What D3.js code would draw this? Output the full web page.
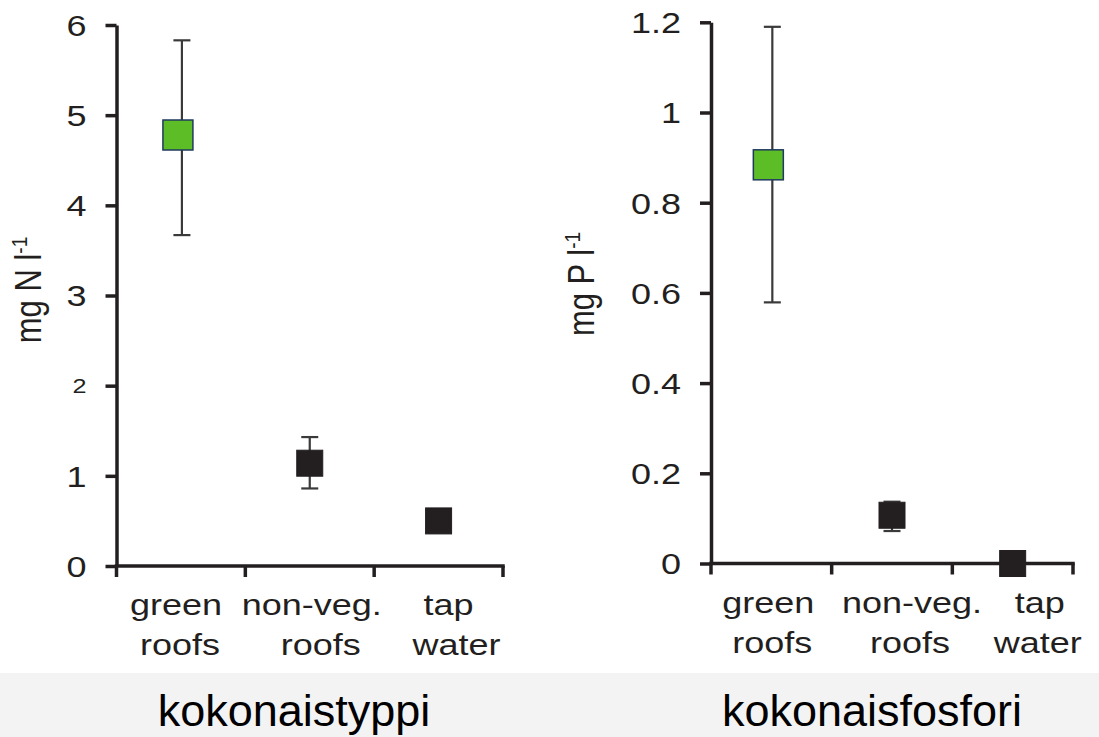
<!DOCTYPE html>
<html>
<head>
<meta charset="utf-8">
<script src="https://cdn.jsdelivr.net/npm/d3@7/dist/d3.min.js"></script>
<style>
  html, body { margin: 0; padding: 0; background: #ffffff; }
  svg { display: block; }
  text { font-family: "Liberation Sans", Arial, sans-serif; }
</style>
</head>
<body>
<svg id="chart" width="1099" height="737"></svg>
<script>
// ---------------- data ----------------
const categories = ["green roofs", "non-veg. roofs", "tap water"];
const categoryLines = [["green", "roofs"], ["non-veg.", "roofs"], ["tap", "water"]];

const nitrogenMean = [4.78, 1.14, 0.50];
const nitrogenLow  = [3.67, 0.86, null];
const nitrogenHigh = [5.83, 1.43, null];

const phosphorusMean = [0.884, 0.107, 0.0];
const phosphorusLow  = [0.579, 0.072, null];
const phosphorusHigh = [1.19, 0.137, null];

const nitrogenTicks = [0, 1, 2, 3, 4, 5, 6];
const nitrogenTickLabels = ["0", "1", "2", "3", "4", "5", "6"];
const phosphorusTicks = [0, 0.2, 0.4, 0.6, 0.8, 1.0, 1.2];
const phosphorusTickLabels = ["0", "0.2", "0.4", "0.6", "0.8", "1", "1.2"];

const titles = ["kokonaistyppi", "kokonaisfosfori"];
const yLabels = [["mg N l", "-1"], ["mg P l", "-1"]];

// ---------------- layout / style ----------------
const panels = [
  { mean: nitrogenMean, low: nitrogenLow, high: nitrogenHigh,
    ticks: nitrogenTicks, tickLabels: nitrogenTickLabels, domain: [0, 6],
    x0: 116.5, x1: 503, yBottom: 566, yTop: 25,
    labelDx: [[-5, -1], [2, 11], [10, 18]],
    yLabelX: 41, yLabelY: 290, title: titles[0], titleX: 294, yLabel: yLabels[0],
    smallTick: 2 },
  { mean: phosphorusMean, low: phosphorusLow, high: phosphorusHigh,
    ticks: phosphorusTicks, tickLabels: phosphorusTickLabels, domain: [0, 1.2],
    x0: 711, x1: 1073, yBottom: 563.5, yTop: 22.3,
    labelDx: [[-3, 1], [20, 18], [27, 25]],
    yLabelX: 594, yLabelY: 284, title: titles[1], titleX: 872, yLabel: yLabels[1],
    smallTick: null }
];

const stretch = 1.2;
const inkColor = "#231f20";
const svg = d3.select("#chart");

// bottom band
svg.append("rect").attr("x", 0).attr("y", 673).attr("width", 1099).attr("height", 64)
  .attr("fill", "#f3f3f3");

panels.forEach((p, pi) => {
  const y = d3.scaleLinear().domain(p.domain).range([p.yBottom, p.yTop]);
  const x = d3.scaleBand().domain(categories).range([p.x0, p.x1]).paddingInner(0).paddingOuter(0);
  const g = svg.append("g");

  // y axis
  const yAxis = d3.axisLeft(y).tickValues(p.ticks).tickSize(11).tickSizeOuter(0).tickFormat("");
  const ya = g.append("g").attr("transform", `translate(${p.x0},0)`).call(yAxis);
  ya.select(".domain").attr("stroke", inkColor).attr("stroke-width", 3.5);
  ya.selectAll(".tick line").attr("stroke", inkColor).attr("stroke-width", 3.5);

  // y tick labels
  p.ticks.forEach((t, i) => {
    const small = p.smallTick !== null && t === p.smallTick;
    g.append("text")
      .attr("transform", `translate(${p.x0 - 30},${y(t)}) scale(${stretch},1)`)
      .attr("text-anchor", "end")
      .attr("dy", "0.36em")
      .attr("font-size", small ? 21 : 30)
      .attr("fill", inkColor)
      .text(p.tickLabels[i]);
  });

  // x axis
  const bounds = [p.x0, ...categories.map(c => x(c) + x.bandwidth())];
  g.append("line").attr("x1", p.x0 - 1.75).attr("x2", p.x1 + 1.75)
    .attr("y1", y(0)).attr("y2", y(0))
    .attr("stroke", inkColor).attr("stroke-width", 3.5);
  g.selectAll(".xtick").data(bounds).enter().append("line")
    .attr("x1", d => d).attr("x2", d => d)
    .attr("y1", y(0)).attr("y2", y(0) + 11)
    .attr("stroke", inkColor).attr("stroke-width", 3.5);

  // x labels
  categories.forEach((c, i) => {
    categoryLines[i].forEach((line, li) => {
      g.append("text")
        .attr("transform", `translate(${x(c) + x.bandwidth() / 2 + p.labelDx[i][li]},${y(0) + 49 + li * 40}) scale(${stretch},1)`)
        .attr("text-anchor", "middle")
        .attr("font-size", 30)
        .attr("fill", inkColor)
        .text(line);
    });
  });

  // y label
  const yl = g.append("text")
    .attr("transform", `translate(${p.yLabelX},${p.yLabelY}) rotate(-90) scale(1,${stretch})`)
    .attr("text-anchor", "middle")
    .attr("font-size", 31)
    .attr("fill", inkColor);
  yl.append("tspan").text(p.yLabel[0]);
  yl.append("tspan").attr("font-size", 19).attr("dy", -12).text(p.yLabel[1]);

  // error bars
  categories.forEach((c, i) => {
    if (p.low[i] === null) return;
    const cx = x(c) + x.bandwidth() / 2 + (i === 0 ? 1 : 0);
    g.append("line").attr("x1", cx).attr("x2", cx)
      .attr("y1", y(p.low[i])).attr("y2", y(p.high[i]))
      .attr("stroke", "#3a3a3a").attr("stroke-width", 2.2);
    [p.low[i], p.high[i]].forEach(v => {
      g.append("line").attr("x1", cx - 8.5).attr("x2", cx + 8.5)
        .attr("y1", y(v)).attr("y2", y(v))
        .attr("stroke", "#3a3a3a").attr("stroke-width", 2.2);
    });
  });

  // markers
  categories.forEach((c, i) => {
    const green = i === 0;
    const s = green ? 30 : 26;
    const cx = x(c) + x.bandwidth() / 2 + (green ? -3 : 0);
    g.append("rect")
      .attr("x", cx - s / 2).attr("y", y(p.mean[i]) - s / 2)
      .attr("width", s).attr("height", s)
      .attr("fill", green ? "#5cbd26" : inkColor)
      .attr("stroke", green ? "#1f3a5f" : inkColor)
      .attr("stroke-width", green ? 1.5 : 1);
  });

  // title
  svg.append("text")
    .attr("x", p.titleX).attr("y", 726)
    .attr("text-anchor", "middle")
    .attr("font-size", 45)
    .attr("fill", "#000")
    .text(p.title);
});
</script>
</body>
</html>
